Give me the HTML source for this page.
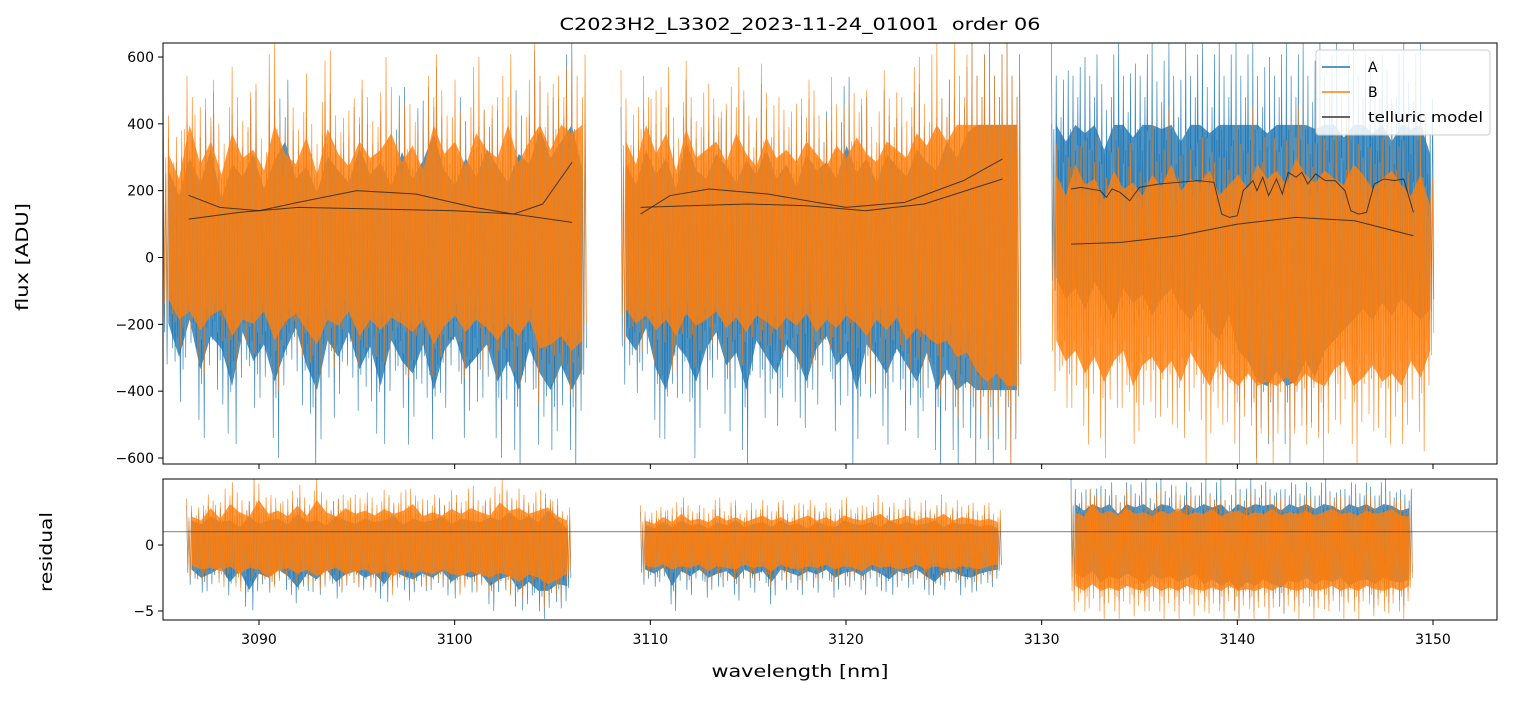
<!DOCTYPE html>
<html><head><meta charset="utf-8"><style>
body{margin:0;background:#fff;}
svg text{font-family:"DejaVu Sans","Liberation Sans",sans-serif;}
</style></head><body>
<svg id="chart" width="1513" height="696" xmlns="http://www.w3.org/2000/svg">
<rect width="1513" height="696" fill="#fff"/>
<defs>
<clipPath id="ctop"><rect x="163" y="43" width="1334" height="421"/></clipPath>
<clipPath id="cbot"><rect x="163" y="479" width="1334" height="141"/></clipPath>
</defs>
<g id="gtop" clip-path="url(#ctop)"></g>
<g id="gbot" clip-path="url(#cbot)"></g>
<g id="axes"></g>
<text x="800" y="30" font-size="17" text-anchor="middle" textLength="481" lengthAdjust="spacingAndGlyphs" xml:space="preserve">C2023H2_L3302_2023-11-24_01001  order 06</text>
<text x="800" y="677" font-size="17" text-anchor="middle" textLength="177" lengthAdjust="spacingAndGlyphs">wavelength [nm]</text>
<text transform="translate(28,257) rotate(-90)" font-size="17" text-anchor="middle" textLength="108" lengthAdjust="spacingAndGlyphs">flux [ADU]</text>
<text transform="translate(52,552) rotate(-90)" font-size="17" text-anchor="middle" textLength="80" lengthAdjust="spacingAndGlyphs">residual</text>
<g>
<rect x="1316" y="50" width="174" height="85" rx="3" fill="#fff" fill-opacity="0.85" stroke="#ccc"/>
<line x1="1322" x2="1350" y1="67" y2="67" stroke="#1f77b4" stroke-width="1.5"/><text x="1368" y="72" font-size="14">A</text>
<line x1="1322" x2="1350" y1="92" y2="92" stroke="#ff7f0e" stroke-width="1.5"/><text x="1368" y="97" font-size="14">B</text>
<line x1="1322" x2="1350" y1="117" y2="117" stroke="#333" stroke-width="1.5"/><text x="1368" y="122" font-size="14" textLength="115" lengthAdjust="spacingAndGlyphs">telluric model</text>
</g>
</svg>
<script>
// ---- data ----
const segRanges=[[3085.1,3106.8],[3108.5,3129.0],[3130.5,3150.1]];
const resRanges=[[3086.3,3106.0],[3109.5,3128.0],[3131.5,3149.0]];
const aHi=[[420,300,480,360,520,280,450,390,500,330,470,560,380,440,310,490,420,360,530,400,460,340,510,380,470,600,420,350,480,390,520,440,360,500,450,620,480,560,640,420],
[450,350,520,400,480,330,560,420,380,500,440,360,470,400,520,380,450,340,500,420,460,380,540,410,480,360,500,440,390,520,460,420,560,480,600,640,640,640,640,640],
[640,560,640,600,640,520,640,640,580,640,640,620,640,560,640,640,600,640,640,640,640,640,600,640,640,640,640,620,640,640,580,640,640,600,640,560,640,620,640,500]];
const aLo=[[-320,-480,-300,-540,-380,-440,-620,-360,-500,-420,-600,-450,-340,-520,-640,-400,-480,-360,-540,-430,-620,-400,-500,-560,-420,-640,-450,-380,-540,-480,-420,-600,-500,-640,-440,-560,-640,-520,-640,-540],
[-380,-450,-340,-540,-640,-420,-480,-600,-440,-360,-520,-460,-640,-400,-480,-560,-420,-480,-600,-440,-380,-520,-460,-640,-420,-480,-560,-440,-520,-600,-460,-640,-540,-640,-600,-640,-640,-640,-640,-640],
[-100,-200,-150,-250,-120,-200,-300,-150,-220,-180,-280,-200,-150,-250,-300,-220,-350,-400,-280,-450,-500,-600,-620,-550,-620,-600,-500,-580,-450,-400,-350,-300,-250,-300,-220,-280,-200,-250,-300,-250]];
const bHi=[[500,380,640,450,560,400,600,480,520,420,640,500,450,580,400,620,500,440,560,480,520,600,460,540,420,640,500,560,440,600,520,480,640,460,560,640,520,640,600,640],
[560,450,640,500,600,420,620,480,520,560,460,600,500,440,580,480,520,460,560,500,440,540,480,580,500,460,560,520,480,600,540,640,560,640,640,640,640,640,640,640],
[400,300,450,350,380,280,420,330,360,300,400,340,450,320,380,360,420,300,350,400,330,450,380,420,350,480,400,360,420,380,350,450,400,330,380,420,350,300,400,250]];
const bLo=[[-200,-300,-260,-350,-280,-250,-380,-300,-320,-260,-400,-310,-270,-350,-420,-300,-330,-260,-380,-300,-350,-290,-320,-360,-300,-420,-330,-280,-360,-300,-340,-400,-320,-380,-300,-440,-420,-380,-450,-400],
[-250,-320,-280,-350,-300,-380,-270,-330,-300,-260,-340,-290,-360,-280,-310,-350,-290,-330,-270,-360,-300,-340,-280,-320,-380,-300,-350,-290,-400,-340,-380,-420,-400,-480,-460,-550,-600,-560,-620,-620],
[-400,-500,-450,-560,-480,-600,-500,-450,-620,-520,-480,-560,-500,-600,-460,-540,-620,-500,-580,-620,-560,-620,-600,-620,-580,-620,-560,-600,-620,-540,-500,-620,-580,-520,-600,-560,-620,-500,-580,-450]];
const raHi=[[3,2.5,3.5,2.8,3,2.2,3.5,2.6,3,3.2,2.5,3.8,2.8,3,2.4,3.5,3,2.6,3.2,2.8,3,3.6,2.5,3.2,2.8,3,3.5,2.6,3.2,3,2.8,3.4,3,4,3,3.5,2.8,4.2,3,2],
[2.5,2,2.8,2.2,3,2.4,2.6,2,2.8,2.4,3,2.2,2.6,2.8,2.2,3,2.4,2.6,2,2.8,2.4,2.2,3,2.6,2.4,2.8,2.2,3,2.5,2.8,2.4,2.6,3,2.2,2.8,2.5,2.6,2.2,2.5,2],
[5,4.2,5,4.5,5,3.8,5,4.6,5,4.2,5,4.8,4,5,4.4,5,4.6,5,4,5,4.5,5,4.8,5,4.2,5,4.6,5,4.4,5,4.8,4.2,5,4.6,5,4.4,5,4.8,4.2,4.5]];
const raLo=[[-3,-4,-3.5,-2.8,-4.5,-3.2,-5.5,-3.5,-4,-3,-3.8,-5.2,-3.5,-4.2,-3,-4.5,-3.6,-3.2,-4,-3.5,-4.8,-3.2,-3.8,-4.2,-3.5,-4,-3.2,-4.5,-3.6,-4,-3.5,-5,-4.2,-3.8,-5.5,-4.5,-5.6,-5.6,-4.8,-5],
[-3,-3.5,-2.8,-5,-3.2,-3.8,-3,-4,-3.5,-3.2,-4.2,-3,-3.6,-3.2,-4.5,-3,-3.4,-3.8,-3.2,-3.6,-3,-4,-3.4,-3.2,-3.8,-3,-3.5,-4.2,-3.2,-3.6,-3,-3.8,-4.5,-3.4,-3.2,-3.8,-4,-3.5,-3.2,-3],
[-3.5,-4,-3.2,-4.5,-3.8,-4.2,-3.5,-4,-4.8,-3.6,-4.2,-3.8,-4.5,-4,-3.6,-4.8,-4.2,-5,-4.4,-5.5,-4.6,-5,-4.2,-4.8,-5.2,-4.4,-4.6,-4,-4.8,-4.2,-4.5,-4,-5,-4.4,-4.2,-4.8,-4,-4.4,-4.6,-4.2]];
const rbHi=[[3.5,3,4.5,3.2,5,4,3.5,5.5,3.8,4.2,3.5,4.8,3.6,5.5,4,3.5,4.5,3.8,4.2,3.6,4.4,3.8,4.2,5,3.5,4,3.6,4.4,3.8,4.5,4,3.6,5.2,4.2,4.5,3.8,4.2,4.6,3.5,3],
[3,2.6,3.4,2.8,3.8,3,3.2,2.8,3.6,3,3.4,2.8,3.2,3.6,3,3.4,2.8,3.2,3.6,3,3.4,2.8,3.6,3.2,3,3.4,3.8,3,3.2,3.6,3,3.4,3.2,3.8,3,3.4,3.2,3,3.2,2.8],
[4,3.5,5,3.8,4.2,3.6,4.5,3.8,4,3.5,4.2,3.8,4.5,3.6,4,3.8,4.4,3.5,4,4.2,3.6,4,3.8,4.4,3.6,4,3.8,4.2,3.6,4,4.4,3.8,4,3.6,4.2,3.8,4,4.4,3.6,3.5]];
const rbLo=[[-2.5,-3,-2.8,-3.2,-2.6,-3.5,-2.8,-3,-4,-3.2,-2.8,-3.5,-3,-3.8,-3.2,-2.8,-3.5,-3.2,-3,-3.6,-3.2,-3.8,-3,-3.4,-3.2,-3.6,-3,-3.5,-3.8,-3.2,-3.6,-4,-3.4,-3.8,-4.5,-3.6,-4,-4.8,-4.2,-3.5],
[-2.5,-2.8,-2.4,-3,-2.6,-2.8,-2.4,-3.2,-2.6,-2.8,-3,-2.4,-2.8,-2.6,-3.2,-2.4,-2.8,-3,-2.6,-2.8,-2.4,-3,-2.6,-2.8,-3.2,-2.4,-2.8,-2.6,-3,-2.8,-2.4,-3,-2.6,-2.8,-3,-2.6,-2.8,-3,-2.6,-2.4],
[-5,-5.6,-4.8,-5.6,-5.2,-5.6,-5,-5.4,-5.6,-5,-5.6,-5.2,-5.6,-5,-5.4,-5.6,-5.2,-5.6,-5,-5.6,-5.4,-5.6,-5.2,-5.6,-5,-5.4,-5.6,-5.2,-5.6,-5.4,-5,-5.6,-5.2,-5.6,-5,-5.4,-5.6,-5.2,-5.6,-5]];
const tellX=[[3086.4,3088,3090,3092,3095,3098,3101,3103,3104.5,3106],[3109.5,3111,3113,3116,3120,3123,3126,3128],[3131.5,3132,3133,3133.3,3133.6,3134,3134.5,3135,3136,3137,3138,3138.8,3139.2,3139.6,3140,3140.3,3140.8,3141,3141.3,3141.6,3142,3142.3,3142.6,3143,3143.3,3143.6,3144,3144.5,3145,3145.5,3145.8,3146.2,3146.6,3147,3147.5,3148,3148.5,3149]];
const tellY=[[186,150,140,165,200,190,150,130,160,285],[130,185,205,190,150,165,230,295],[205,210,200,180,205,195,170,210,220,225,230,225,130,120,125,200,230,200,240,185,235,190,255,240,255,220,250,230,230,200,140,130,135,220,235,230,235,135]];
const cont2X=[[3086.4,3089,3092,3096,3100,3103,3106],[3109.5,3112,3115,3118,3121,3124,3128],[3131.5,3134,3137,3140,3143,3146,3149]];
const cont2Y=[[115,135,150,145,140,130,105],[150,155,160,155,140,160,235],[40,45,65,100,120,110,65]];
const xTicks=[3090,3100,3110,3120,3130,3140,3150];
const yTicksTop=[600,400,200,0,-200,-400,-600];
const yTicksBot=[0,-5];
// ---- scales ----
const X=w=>259+(w-3090)*(1433-259)/60;
const YT=v=>257.5-v*(401/1200);
const YB=v=>545-v*13.2;
const NS='http://www.w3.org/2000/svg';
function mk(tag,attrs,parent){const e=document.createElementNS(NS,tag);for(const k in attrs)e.setAttribute(k,attrs[k]);parent.appendChild(e);return e;}
const gTop=document.getElementById('gtop'),gBot=document.getElementById('gbot'),gAxes=document.getElementById('axes');
const FR=[[1,0.7],[0.6,1],[0.85,0.55],[0.5,0.85],[0.75,0.65],[0.95,0.5],[0.55,0.9]];
function band(parent,range,hi,lo,Y,color,name){
  const n=hi.length,w=(range[1]-range[0])/n;
  let core='';
  for(let i=0;i<n;i++){core+=X(range[0]+(i+0.5)*w)+','+Y(hi[i]*0.62)+' ';}
  for(let i=n-1;i>=0;i--){core+=X(range[0]+(i+0.5)*w)+','+Y(lo[i]*0.62)+' ';}
  const p=mk('polygon',{points:core,fill:color,'fill-opacity':0.8},parent);
  
  
  let z='';
  for(let i=0;i<n;i++){for(let k=0;k<4;k++){const f=FR[(i*4+k)%7];const x0=range[0]+(i+k/4)*w;
    z+=X(x0)+','+Y(hi[i]*f[0])+' '+X(x0+w/8)+','+Y(lo[i]*f[1])+' ';}}
  const l=mk('polyline',{points:z,fill:'none',stroke:color,'stroke-width':0.7,'stroke-opacity':0.85},parent);
  
  
}
for(let s=0;s<3;s++){band(gTop,segRanges[s],aHi[s],aLo[s],YT,'#1f77b4','flux-a-seg'+(s+1));}
for(let s=0;s<3;s++){band(gTop,segRanges[s],bHi[s],bLo[s],YT,'#ff7f0e','flux-b-seg'+(s+1));}
for(let s=0;s<3;s++){
  const t=mk('polyline',{points:tellX[s].map((x,i)=>X(x)+','+YT(tellY[s][i])).join(' '),fill:'none',stroke:'#222','stroke-opacity':0.8,'stroke-width':1},gTop);
  
  
  const c=mk('polyline',{points:cont2X[s].map((x,i)=>X(x)+','+YT(cont2Y[s][i])).join(' '),fill:'none',stroke:'#222','stroke-opacity':0.8,'stroke-width':1},gTop);
  
  
}
for(let s=0;s<3;s++){band(gBot,resRanges[s],raHi[s],raLo[s],YB,'#1f77b4','residual-a-seg'+(s+1));}
for(let s=0;s<3;s++){band(gBot,resRanges[s],rbHi[s],rbLo[s],YB,'#ff7f0e','residual-b-seg'+(s+1));}
const hl=mk('line',{x1:163,x2:1497,y1:YB(1),y2:YB(1),stroke:'#333','stroke-width':0.6},gBot);


const f1=mk('rect',{x:163,y:43,width:1334,height:421,fill:'none',stroke:'#000','stroke-width':1},gAxes);


const f2=mk('rect',{x:163,y:479,width:1334,height:141,fill:'none',stroke:'#000','stroke-width':1},gAxes);


xTicks.forEach(t=>{
  const a=mk('line',{x1:X(t),x2:X(t),y1:464,y2:469,stroke:'#000'},gAxes);
  
  
  const b=mk('line',{x1:X(t),x2:X(t),y1:620,y2:625,stroke:'#000'},gAxes);
  
  
  const tx=mk('text',{x:X(t),y:644,'font-size':14,'text-anchor':'middle'},gAxes);tx.textContent=t;
  
  
});
yTicksTop.forEach(t=>{
  const a=mk('line',{x1:158,x2:163,y1:YT(t),y2:YT(t),stroke:'#000'},gAxes);
  
  
  const tx=mk('text',{x:154,y:YT(t)+5,'font-size':14,'text-anchor':'end'},gAxes);tx.textContent=String(t).replace('-','\u2212');
  
  
});
yTicksBot.forEach(t=>{
  const a=mk('line',{x1:158,x2:163,y1:YB(t),y2:YB(t),stroke:'#000'},gAxes);
  
  
  const tx=mk('text',{x:154,y:YB(t)+5,'font-size':14,'text-anchor':'end'},gAxes);tx.textContent=String(t).replace('-','\u2212');
  
  
});
</script>
</body></html>
